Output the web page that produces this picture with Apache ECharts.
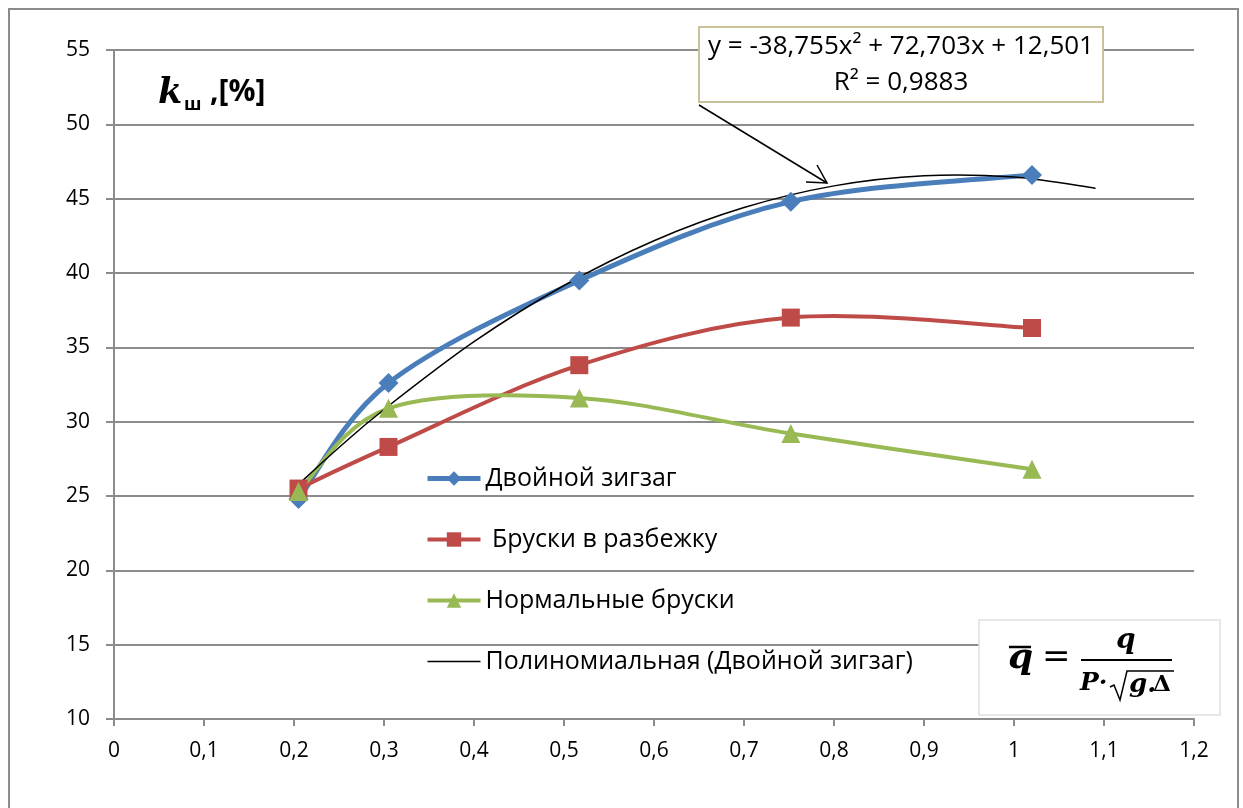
<!DOCTYPE html>
<html>
<head>
<meta charset="utf-8">
<script src="https://cdn.jsdelivr.net/npm/echarts@6/dist/echarts.min.js"></script>
<style>
  html, body { margin: 0; padding: 0; background: #fff; }
  #chart { width: 1243px; height: 808px; }
</style>
</head>
<body>
<div id="chart"></div>
<script>
// Relative flow q̄ for each test
const xValues = [0.205, 0.305, 0.517, 0.752, 1.02];
// k_ш, % for the three block layouts
const zigzagValues = [24.8, 32.6, 39.5, 44.8, 46.6];
const staggeredValues = [25.5, 28.3, 33.8, 37.0, 36.3];
const normalValues = [25.3, 30.9, 31.6, 29.2, 26.8];
// Polynomial trend of the double zigzag (y = -38,755x² + 72,703x + 12,501)
const trendX = [0.205, 0.25, 0.3, 0.4, 0.5, 0.6, 0.7, 0.8, 0.9, 1.0, 1.09];
const trendY = [25.78, 28.26, 30.82, 35.38, 39.16, 42.17, 44.40, 45.86, 46.54, 46.45, 45.70];

const seriesNames = ['Двойной зигзаг', ' Бруски в разбежку', 'Нормальные бруски', 'Полиномиальная (Двойной зигзаг)'];
const equationText = 'y = -38,755x² + 72,703x + 12,501';
const r2Text = 'R² = 0,9883';

const COLORS = ['#4a7ebb', '#be4b48', '#98b954', '#000000'];
const WIDTHS = [5, 4, 4, 1.5];

const pair = (xs, ys) => xs.map((x, i) => [x, ys[i]]);
const fmt = v => String(+v.toFixed(1)).replace('.', ',');

// Smooth cubic path through pixel points (Catmull-Rom tangents)
function smoothPath(pts) {
  let d = 'M' + pts[0][0] + ',' + pts[0][1];
  for (let i = 0; i < pts.length - 1; i++) {
    const p0 = pts[Math.max(i - 1, 0)], p1 = pts[i], p2 = pts[i + 1], p3 = pts[Math.min(i + 2, pts.length - 1)];
    const c1 = [p1[0] + (p2[0] - p0[0]) / 6, p1[1] + (p2[1] - p0[1]) / 6];
    const c2 = [p2[0] - (p3[0] - p1[0]) / 6, p2[1] - (p3[1] - p1[1]) / 6];
    d += ' C' + c1[0] + ',' + c1[1] + ' ' + c2[0] + ',' + c2[1] + ' ' + p2[0] + ',' + p2[1];
  }
  return d;
}

// Curve drawn through the data points via the chart's own coordinate system
function curve(id, xs, ys, color, width) {
  return {
    type: 'custom', name: id, silent: true, clip: false,
    data: [[xs[0], ys[0]]],
    renderItem: (params, api) => {
      const pts = xs.map((x, i) => api.coord([x, ys[i]]));
      return {
        type: 'path',
        shape: { pathData: smoothPath(pts) },
        style: { fill: 'none', stroke: color, lineWidth: width, lineJoin: 'round', lineCap: 'round' }
      };
    }
  };
}

function markers(name, xs, ys, symbol, size, color) {
  return {
    name, type: 'line', data: pair(xs, ys),
    symbol, symbolSize: size,
    showSymbol: symbol !== 'none',
    lineStyle: { color, width: 0, opacity: 0 },
    itemStyle: { color }
  };
}

function mathText(x, y, text, size, opts) {
  return {
    type: 'text', x, y, z: 21,
    style: Object.assign({
      text, fill: '#000', fontFamily: 'DejaVu Serif', fontSize: size,
      fontWeight: 'bold', fontStyle: 'italic', align: 'left', verticalAlign: 'middle'
    }, opts || {})
  };
}

const FONT = 'Open Sans';
const GRID_COLOR = '#8c8c8c';

const chart = echarts.init(document.getElementById('chart'), null, { renderer: 'canvas' });

chart.setOption({
  backgroundColor: '#ffffff',
  animation: false,
  grid: { left: 114, right: 49, top: 50, bottom: 89, containLabel: false },
  xAxis: {
    type: 'value', min: 0, max: 1.2, interval: 0.1,
    axisLine: { show: true, lineStyle: { color: GRID_COLOR, width: 2 } },
    axisTick: { show: true, length: 7, lineStyle: { color: GRID_COLOR, width: 2 } },
    splitLine: { show: false },
    axisLabel: { color: '#000', fontSize: 21, fontFamily: FONT, margin: 22, formatter: fmt }
  },
  yAxis: {
    type: 'value', min: 10, max: 55, interval: 5,
    axisLine: { show: true, lineStyle: { color: GRID_COLOR, width: 2 } },
    axisTick: { show: true, length: 8, lineStyle: { color: GRID_COLOR, width: 2 } },
    splitLine: { show: true, lineStyle: { color: GRID_COLOR, width: 2 } },
    axisLabel: { color: '#000', fontSize: 21, fontFamily: FONT, margin: 24, formatter: fmt }
  },
  legend: {
    orient: 'vertical', left: 420, top: 461,
    itemWidth: 53, itemHeight: 18, itemGap: 36,
    textStyle: { color: '#000', fontSize: 25, fontFamily: FONT, lineHeight: 24 },
    data: seriesNames.map((name, i) => ({
      name,
      lineStyle: { color: COLORS[i], width: WIDTHS[i], opacity: 1 },
      itemStyle: i === 3 ? { opacity: 0 } : { color: COLORS[i] }
    }))
  },
  series: [
    curve('zigzag-curve', xValues, zigzagValues, COLORS[0], WIDTHS[0]),
    markers(seriesNames[0], xValues, zigzagValues, 'diamond', 20, COLORS[0]),
    curve('staggered-curve', xValues, staggeredValues, COLORS[1], WIDTHS[1]),
    markers(seriesNames[1], xValues, staggeredValues, 'rect', 18, COLORS[1]),
    curve('normal-curve', xValues, normalValues, COLORS[2], WIDTHS[2]),
    markers(seriesNames[2], xValues, normalValues, 'triangle', 19, COLORS[2]),
    curve('trend-curve', trendX, trendY, COLORS[3], WIDTHS[3]),
    markers(seriesNames[3], trendX, trendY, 'none', 0, COLORS[3])
  ],
  graphic: [
    // chart area frame
    { type: 'rect', shape: { x: 9, y: 9, width: 1229, height: 810 }, style: { fill: 'none', stroke: '#8c8c8c', lineWidth: 2 }, silent: true, z: 0 },
    // y-axis title
    { type: 'text', left: 158, top: 76, style: { text: 'k', fontFamily: 'DejaVu Serif', fontSize: 35, fontWeight: 'bold', fontStyle: 'italic', fill: '#000' }, z: 10 },
    { type: 'text', left: 184, top: 96, style: { text: 'ш', fontFamily: FONT, fontSize: 18, fontWeight: 'bold', fill: '#000' }, z: 10 },
    { type: 'text', left: 210, top: 77, style: { text: ',[%]', fontFamily: FONT, fontSize: 30, fontWeight: 'bold', fill: '#000' }, z: 10 },
    // trend equation label
    { type: 'rect', shape: { x: 699, y: 27, width: 404, height: 75 }, style: { fill: '#fff', stroke: '#c9c19a', lineWidth: 2 }, z: 20 },
    { type: 'text', x: 901, y: 47, style: { text: equationText, fontFamily: FONT, fontSize: 26, fill: '#000', align: 'center', verticalAlign: 'middle' }, z: 21 },
    { type: 'text', x: 901, y: 83, style: { text: r2Text, fontFamily: FONT, fontSize: 26, fill: '#000', align: 'center', verticalAlign: 'middle' }, z: 21 },
    // pointer to the trend curve
    { type: 'polyline', shape: { points: [[699, 105], [827, 183]] }, style: { stroke: '#000', lineWidth: 1.5, fill: 'none' }, z: 20 },
    { type: 'polyline', shape: { points: [[806, 182], [827, 183], [817, 165]] }, style: { stroke: '#000', lineWidth: 1.5, fill: 'none' }, z: 20 },
    // definition of q̄
    { type: 'rect', shape: { x: 979, y: 620, width: 241, height: 95 }, style: { fill: '#fff', stroke: '#e0e0e0', lineWidth: 1.5 }, z: 20 },
    mathText(1008, 659, 'q', 36),
    { type: 'line', shape: { x1: 1009, y1: 647, x2: 1031, y2: 647 }, style: { stroke: '#000', lineWidth: 2.5 }, z: 21 },
    mathText(1042, 658, '=', 34, { fontWeight: 'normal', fontStyle: 'normal' }),
    mathText(1116, 641, 'q', 28),
    { type: 'line', shape: { x1: 1081, y1: 660, x2: 1172, y2: 660 }, style: { stroke: '#000', lineWidth: 2 }, z: 21 },
    mathText(1080, 683, 'P·', 25),
    { type: 'polyline', shape: { points: [[1110, 687], [1114, 685], [1120, 700], [1127, 671], [1174, 671]] }, style: { stroke: '#000', lineWidth: 1.5, fill: 'none' }, z: 21 },
    mathText(1129, 685, 'g.', 26),
    mathText(1153, 685, 'Δ', 23, { fontStyle: 'normal' })
  ]
});
</script>
</body>
</html>
